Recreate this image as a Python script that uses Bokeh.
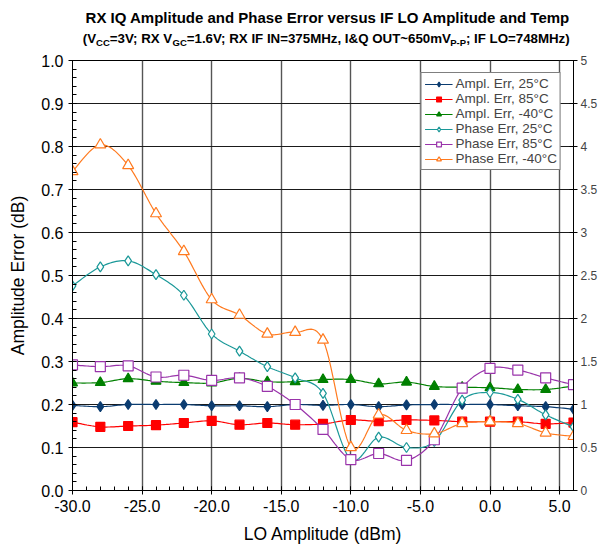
import numpy as np
from bokeh.plotting import figure
from bokeh.layouts import column
from bokeh.models import (Range1d, LinearAxis, FixedTicker, Legend,
                          LegendItem, NumeralTickFormatter)
from bokeh.core.properties import value
from bokeh.embed import file_html
from bokeh.resources import INLINE

# ---------------- data ----------------
lo_dbm = [-30, -28, -26, -24, -22, -20, -18, -16, -14, -12, -10, -8, -6, -4, -2, 0, 2, 4, 6]

ampl_err_25 = [0.198, 0.195, 0.200, 0.200, 0.200, 0.197, 0.197, 0.195, 0.200, 0.198,
               0.200, 0.195, 0.199, 0.200, 0.200, 0.200, 0.197, 0.195, 0.189]
ampl_err_85 = [0.159, 0.148, 0.150, 0.152, 0.157, 0.162, 0.153, 0.157, 0.153, 0.155,
               0.164, 0.161, 0.164, 0.163, 0.160, 0.160, 0.160, 0.155, 0.158]
ampl_err_m40 = [0.250, 0.251, 0.260, 0.254, 0.251, 0.250, 0.261, 0.253, 0.253, 0.258,
                0.258, 0.248, 0.252, 0.242, 0.240, 0.239, 0.235, 0.235, 0.243]
phase_err_25 = [2.38, 2.60, 2.67, 2.51, 2.27, 1.82, 1.62, 1.44, 1.31, 1.13,
                0.36, 0.62, 0.50, 0.57, 1.05, 1.14, 1.06, 0.88, 0.74]
phase_err_85 = [1.46, 1.44, 1.45, 1.32, 1.34, 1.28, 1.31, 1.21, 1.00, 0.71,
                0.36, 0.43, 0.35, 0.59, 1.19, 1.42, 1.40, 1.31, 1.23]
phase_err_m40 = [3.71, 4.02, 3.78, 3.22, 2.78, 2.22, 2.04, 1.82, 1.84, 1.75,
                 0.50, 0.88, 0.70, 0.66, 0.78, 0.80, 0.78, 0.67, 0.63]

series_labels = ["Ampl. Err, 25°C", "Ampl. Err, 85°C", "Ampl. Err, -40°C",
                 "Phase Err, 25°C", "Phase Err, 85°C", "Phase Err, -40°C"]

x_ticks = [-30, -25, -20, -15, -10, -5, 0, 5]
x_minor_ticks = list(range(-30, 7))
amp_ticks = [0.0, 0.1, 0.2, 0.3, 0.4, 0.5, 0.6, 0.7, 0.8, 0.9, 1.0]
amp_minor_ticks = [round(i * 0.02, 2) for i in range(51)]
phase_ticks = [0, 0.5, 1, 1.5, 2, 2.5, 3, 3.5, 4, 4.5, 5]

title_text = "RX IQ Amplitude and Phase Error versus IF LO Amplitude and Temp"
subtitle_parts = [("(V", False), ("CC", True), ("=3V; RX V", False), ("GC", True),
                  ("=1.6V; RX IF IN=375MHz, I&Q OUT~650mV", False), ("P-P", True),
                  ("; IF LO=748MHz)", False)]
x_title = "LO Amplitude (dBm)"
y_title = "Amplitude Error (dB)"

# ---------------- styling ----------------
FONT = "Liberation Sans"
C_AMP25 = "#0B3C70"
C_AMP85 = "#FF0000"
C_AMPM40 = "#008000"
C_PH25 = "#1A9898"
C_PH85 = "#9933AA"
C_PHM40 = "#FF7A1F"
FRAME_L, FRAME_R = 72, 576   # page pixels of the plot frame


def smooth(xs, ys, n=14):
    """Excel-like smoothed line (Catmull-Rom Bezier) through the data points."""
    xs = np.asarray(xs, float)
    ys = np.asarray(ys, float)
    px, py = [], []
    m = len(xs)
    for i in range(m - 1):
        i0, i3 = max(i - 1, 0), min(i + 2, m - 1)
        p0 = np.array([xs[i0], ys[i0]]); p1 = np.array([xs[i], ys[i]])
        p2 = np.array([xs[i + 1], ys[i + 1]]); p3 = np.array([xs[i3], ys[i3]])
        c1 = p1 + (p2 - p0) / 6.0
        c2 = p2 - (p3 - p1) / 6.0
        for t in np.linspace(0, 1, n, endpoint=False):
            b = ((1 - t) ** 3) * p1 + 3 * ((1 - t) ** 2) * t * c1 + 3 * (1 - t) * t * t * c2 + t ** 3 * p2
            px.append(b[0]); py.append(b[1])
    px.append(xs[-1]); py.append(ys[-1])
    return px, py


# ---------------- header (title + subtitle with subscripts) ----------------
HEAD_H = 50
head = figure(width=600, height=HEAD_H, output_backend="svg", toolbar_location=None,
              x_range=Range1d(FRAME_L, FRAME_R), y_range=Range1d(HEAD_H, 0),
              min_border_left=FRAME_L, min_border_right=600 - FRAME_R,
              min_border_top=0, min_border_bottom=0,
              x_axis_type=None, y_axis_type=None)
head.outline_line_color = None
head.grid.visible = False
head.text(x=[329], y=[17], text=[title_text], text_font=value(FONT),
          text_font_style="bold", text_font_size="15px", text_align="center",
          text_baseline="middle", text_color="black")

AB = {' ': 278, '(': 333, ')': 333, 'V': 667, 'C': 722, '=': 584, '3': 556, ';': 333,
      'R': 722, 'X': 667, 'G': 778, '1': 556, '.': 278, '6': 556, 'I': 278, 'F': 611,
      'N': 722, '7': 556, '5': 556, 'M': 833, 'H': 722, 'z': 500, ',': 278, '&': 722,
      'Q': 778, 'O': 778, 'U': 722, 'T': 611, '~': 584, '0': 556, 'm': 889, 'P': 667,
      '-': 333, 'L': 611, '4': 556, '8': 556}
MAIN_SZ, SUB_SZ = 13.3, 9.5
total = sum(sum(AB[c] for c in t) * (SUB_SZ if s else MAIN_SZ) / 1000 for t, s in subtitle_parts)
cur = 327 - total / 2
for t, is_sub in subtitle_parts:
    sz = SUB_SZ if is_sub else MAIN_SZ
    head.text(x=[cur], y=[41.5 if is_sub else 38], text=[t], text_font=value(FONT),
              text_font_style="bold", text_font_size=f"{sz}px", text_align="left",
              text_baseline="middle", text_color="black")
    cur += sum(AB[c] for c in t) * sz / 1000

# ---------------- main chart ----------------
p = figure(width=600, height=546 - HEAD_H, output_backend="svg", toolbar_location=None,
           x_range=Range1d(-30, 6), y_range=Range1d(0, 1),
           min_border_left=FRAME_L, min_border_right=600 - FRAME_R,
           min_border_top=10, min_border_bottom=56,
           background_fill_color="white", border_fill_color="white")
p.extra_y_ranges = {"phase": Range1d(0, 5)}
p.outline_line_color = "black"
p.outline_line_width = 1

xa = p.xaxis[0]
xa.ticker = FixedTicker(ticks=x_ticks, minor_ticks=x_minor_ticks)
xa.formatter = NumeralTickFormatter(format="0.0")
ya = p.yaxis[0]
ya.ticker = FixedTicker(ticks=amp_ticks, minor_ticks=amp_minor_ticks)
ya.formatter = NumeralTickFormatter(format="0.0")
for ax in (xa, ya):
    ax.axis_line_color = "black"
    ax.major_tick_line_color = "black"
    ax.minor_tick_line_color = "black"
    ax.major_tick_in = 4
    ax.major_tick_out = 4
    ax.minor_tick_in = 4
    ax.minor_tick_out = 0
    ax.major_label_text_font = FONT
    ax.major_label_text_font_size = "16px"
    ax.major_label_text_color = "black"
    ax.axis_label_text_font = FONT
    ax.axis_label_text_font_size = "17.5px"
    ax.axis_label_text_font_style = "normal"
    ax.axis_label_text_color = "black"
xa.axis_label = x_title
ya.axis_label = y_title
xa.major_label_standoff = 5
xa.axis_label_standoff = 9
ya.major_label_standoff = 5
ya.axis_label_standoff = 10

ra = LinearAxis(y_range_name="phase", ticker=FixedTicker(ticks=phase_ticks, minor_ticks=[]),
                formatter=NumeralTickFormatter(format="0.[0]"))
ra.axis_line_color = "black"
ra.major_tick_line_color = "black"
ra.major_tick_in = 4
ra.major_tick_out = 4
ra.minor_tick_line_color = None
ra.major_label_text_font = FONT
ra.major_label_text_font_size = "12px"
ra.major_label_standoff = 3
p.add_layout(ra, "right")

p.xgrid.ticker = FixedTicker(ticks=x_ticks)
p.ygrid.ticker = FixedTicker(ticks=amp_ticks)
p.xgrid.grid_line_color = "#555555"
p.xgrid.grid_line_width = 1.4
p.ygrid.grid_line_color = "#1a1a1a"
p.ygrid.grid_line_width = 1.1

specs = [
    (ampl_err_25, "default", C_AMP25, "diamond", 10, C_AMP25),
    (ampl_err_85, "default", C_AMP85, "square", 9, C_AMP85),
    (ampl_err_m40, "default", C_AMPM40, "triangle", 10, C_AMPM40),
    (phase_err_25, "phase", C_PH25, "diamond", 10, "white"),
    (phase_err_85, "phase", C_PH85, "square", 10, "white"),
    (phase_err_m40, "phase", C_PHM40, "triangle", 11, "white"),
]
items = []
for (vals, rng, col, mk, sz, fill), lab in zip(specs, series_labels):
    sx, sy = smooth(lo_dbm, vals)
    lr = p.line(sx, sy, line_color=col, line_width=1.2, y_range_name=rng)
    mr = p.scatter(lo_dbm, vals, marker=mk, size=sz, line_color=col, fill_color=fill,
                   line_width=1.2, y_range_name=rng)
    items.append(LegendItem(label=lab, renderers=[lr, mr]))

legend = Legend(items=items, location="top_right", margin=12, padding=3, spacing=0,
                glyph_width=28, glyph_height=12, label_height=12, label_standoff=3,
                label_text_font=FONT, label_text_font_size="13.5px",
                border_line_color="black", border_line_width=1,
                background_fill_color="white", background_fill_alpha=1)
p.add_layout(legend)

layout = column(head, p, spacing=0)
open("out.html", "w").write(file_html(layout, INLINE))
